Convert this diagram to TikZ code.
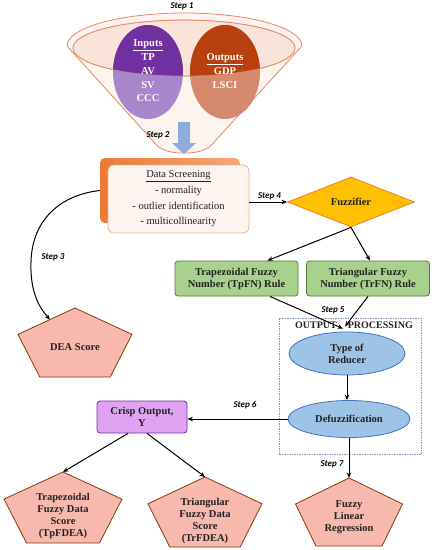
\documentclass[tikz,border=0pt]{standalone}
\usepackage{fontspec}
\setmainfont{Liberation Serif}
\newfontfamily\stepfont{Carlito}
\usetikzlibrary{arrows.meta,shapes.geometric,calc}
\definecolor{funnelline}{HTML}{E58A65}
\definecolor{funnelfill}{HTML}{FDF3EF}
\definecolor{innerfill}{HTML}{FAE3DA}
\definecolor{inDark}{HTML}{7030A0}
\definecolor{inLight}{HTML}{A886CC}
\definecolor{outDark}{HTML}{B8400E}
\definecolor{outLight}{HTML}{D58A6E}
\definecolor{bluearrow}{HTML}{8FAADC}
\definecolor{orangeA}{HTML}{EB7A35}
\definecolor{orangeB}{HTML}{F5A878}
\definecolor{dsfill}{HTML}{FEF4F0}
\definecolor{dsline}{HTML}{F4B08C}
\definecolor{gold}{HTML}{FFC000}
\definecolor{goldline}{HTML}{ED7D31}
\definecolor{greenfill}{HTML}{A9D18E}
\definecolor{greenline}{HTML}{507E32}
\definecolor{bluefill}{HTML}{9DC3E6}
\definecolor{blueline}{HTML}{4472C4}
\definecolor{violetfill}{HTML}{E0A3F2}
\definecolor{violetline}{HTML}{7030A0}
\definecolor{pentfill}{HTML}{F7B8AE}
\definecolor{pentline}{HTML}{843C0C}
\definecolor{dashline}{HTML}{8497B0}
\definecolor{darktext}{HTML}{222222}
\newcommand\pentag[7]{%
  \pgfmathsetmacro\pH{#4-#3}%
  \pgfmathsetmacro\pS{#3+0.382*\pH}%
  \pgfmathsetmacro\pW{#5/2}%
  \pgfmathsetmacro\pB{0.309*#5}%
  \coordinate (#1-top) at (#2,#3);
  \coordinate (#1-left) at ({#2-\pW},\pS);
  \draw[pentshape] (#1-top) -- ({#2+\pW},\pS) -- ({#2+\pB},#4) -- ({#2-\pB},#4) -- (#1-left) -- cycle;
  \node[penttext] (#1) at (#2,#6) {#7};
}
\begin{document}
\begin{tikzpicture}[x=1pt,y=-1pt,
  arr/.style={draw=black,line width=1pt,-{Stealth[length=5.5pt,width=4.5pt]}},
  steplabel/.style={font=\stepfont\bfseries\itshape\fontsize{9}{10}\selectfont,inner sep=0pt},
  bold105/.style={font=\bfseries\fontsize{10.5}{12}\selectfont,text=darktext,align=center},
  pentshape/.style={draw=pentline,fill=pentfill,line width=0.8pt},
  penttext/.style={bold105,inner sep=0pt},
  greenbox/.style={draw=greenline,fill=greenfill,line width=0.8pt,rounded corners=3pt,minimum width=123pt,minimum height=35pt,inner sep=0pt,bold105},
  blueell/.style={ellipse,draw=blueline,fill=bluefill,line width=0.8pt,inner sep=0pt,bold105},
  whitetext/.style={font=\bfseries\fontsize{10.5}{13.75}\selectfont,text=white,align=center,inner sep=0pt}
]
\useasboundingbox (0,0) rectangle (435,550);

% funnel
\draw[funnelline,fill=funnelfill,line width=0.8pt]
  (67,46) arc[start angle=180,end angle=360,x radius=117.5,y radius=33]
  -- (216,140) .. controls (208,151) and (198,153) .. (184,153)
  .. controls (170,153) and (160,151) .. (152,140) -- cycle;
\draw[funnelline,fill=innerfill,line width=0.8pt] (184,48) ellipse [x radius=111,y radius=28];
\fill[inLight] (148,72) ellipse [x radius=35,y radius=47];
\fill[outLight] (225,72) ellipse [x radius=35,y radius=47];
\begin{scope}
  \clip (184,48) ellipse [x radius=111,y radius=28];
  \fill[inDark] (148,72) ellipse [x radius=35,y radius=47];
  \fill[outDark] (225,72) ellipse [x radius=35,y radius=47];
\end{scope}
\draw[funnelline,line width=0.6pt,opacity=0.6] (184,48) ellipse [x radius=111,y radius=28];
\node[whitetext] (inputs) at (148,71) {\underline{Inputs}\\TP\\AV\\SV\\CCC};
\node[whitetext] (outputs) at (225,71) {\underline{Outputs}\\GDP\\LSCI};
\node[steplabel] (s1) at (182,6) {Step 1};

% blue arrow
\fill[bluearrow] (178,122) -- (190,122) -- (190,143) -- (196,143) -- (184,154) -- (172,143) -- (178,143) -- cycle;
\node[steplabel] (s2) at (158,135) {Step 2};

% data screening
\node[rounded corners=5pt,left color=orangeA,right color=orangeB,minimum width=140pt,minimum height=65pt,inner sep=0pt] (dsback) at (170,190.5) {};
\node[draw=dsline,fill=dsfill,line width=0.8pt,rounded corners=6pt,minimum width=141pt,minimum height=68pt,inner sep=0pt,
  font=\fontsize{10.5}{15.7}\selectfont,text=darktext,align=center] (ds) at (178.5,199)
  {\underline{Data Screening}\\- normality\\- outlier identification\\- multicollinearity};

% fuzzifier
\node[diamond,aspect=2.54,draw=goldline,fill=gold,line width=0.8pt,minimum width=127pt,minimum height=50pt,inner sep=1pt,bold105] (fz) at (351,202) {Fuzzifier};
\draw[arr] (ds.east |- fz.west) -- (fz.west);
\node[steplabel] (s4) at (269.5,196.5) {Step 4};

% green boxes
\node[greenbox] (tp) at (236.5,278.5) {Trapezoidal Fuzzy\\Number (TpFN) Rule};
\node[greenbox] (tr) at (368,278.5) {Triangular Fuzzy\\Number (TrFN) Rule};
\draw[arr] (fz.south) -- ($(tp.north)!0.5!(tp.north east)$);
\draw[arr] (fz.south) -- ($(tr.north)+(2,0)$);

% output processing
\node[draw=dashline,line width=0.6pt,dash pattern=on 1.5pt off 1pt,minimum width=142pt,minimum height=136pt,inner sep=0pt] (procbox) at (350,386) {};
\node[font=\bfseries\fontsize{10}{12}\selectfont,text=darktext,inner sep=0pt] (proclabel) at (354,325) {OUTPUT\hspace{11pt}PROCESSING};
\node[blueell,minimum width=116pt,minimum height=43pt] (red) at (347,353.5) {Type of\\Reducer};
\node[blueell,minimum width=122pt,minimum height=37pt] (defz) at (349,419) {Defuzzification};
\draw[arr] ($(tp.south)!0.54!(tp.south east)$) -- ($(red.north)+(-4,-3)$);
\draw[arr] (tr.south) -- ($(red.north)+(-2,-5)$);
\node[steplabel] (s5) at (333,310.5) {Step 5};
\draw[arr] (red.south) -- (red.south |- defz.north);

% crisp output
\node[draw=violetline,fill=violetfill,line width=0.8pt,rounded corners=3pt,minimum width=90pt,minimum height=32pt,inner sep=0pt,bold105] (crisp) at (142,417) {Crisp Output,\\Y};
\draw[arr] (defz.west) -- (crisp.east |- defz.west);
\node[steplabel] (s6) at (245,405) {Step 6};

% pentagons
\pentag{dea}{75}{308}{377}{114}{347}{DEA Score}
\pentag{tpf}{63}{472}{543}{118}{516}{Trapezoidal\\Fuzzy Data\\Score\\(TpFDEA)}
\pentag{trf}{205}{477}{547}{114}{521}{Triangular\\Fuzzy Data\\Score\\(TrFDEA)}
\pentag{flr}{349}{478}{546}{107}{517}{Fuzzy\\Linear\\Regression}

\draw[arr] ($(crisp.south)+(-14,0)$) -- (tpf-top);
\draw[arr] ($(crisp.south)+(5,0)$) -- (trf-top);
\draw[arr] (defz.south) -- (defz.south |- flr-top);
\node[steplabel] (s7) at (332,464) {Step 7};

% step 3 curve
\coordinate (deatarget) at ($(dea-top)!0.44!(dea-left)$);
\draw[arr] (dsback.west) .. controls (60,195) and (32,220) .. (31,262)
  .. controls (30,290) and (38,306) .. (deatarget);
\node[steplabel] (s3) at (53,257) {Step 3};
\end{tikzpicture}
\end{document}
